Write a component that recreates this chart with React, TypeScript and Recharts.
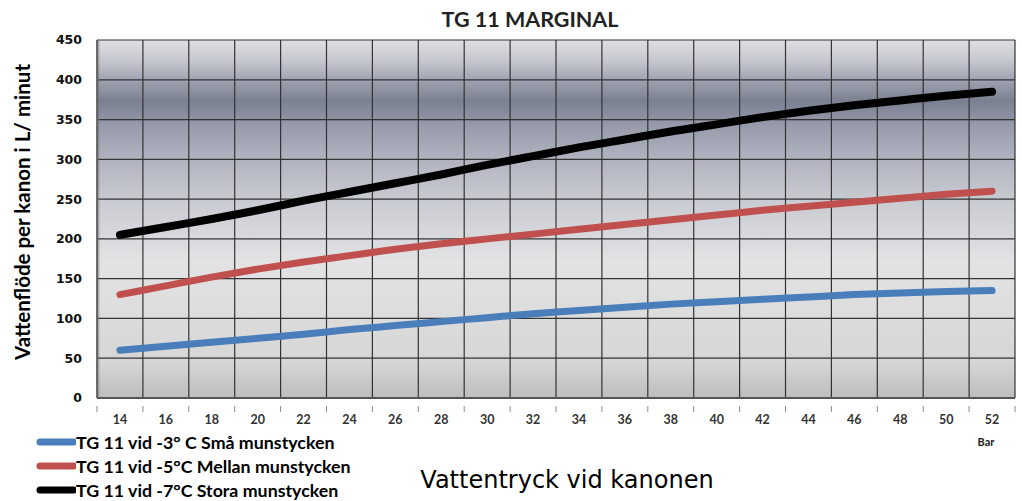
import React from 'react';
import { LineChart, Line, XAxis, YAxis, CartesianGrid, Legend, ReferenceArea } from 'recharts';

const pressures = [14, 16, 18, 20, 22, 24, 26, 28, 30, 32, 34, 36, 38, 40, 42, 44, 46, 48, 50, 52];
const smallNozzles = [60, 65, 70, 75, 80, 86, 91, 96, 101, 106, 110, 114, 118, 121, 124, 127, 130, 132, 134, 135];
const mediumNozzles = [130, 141, 152, 162, 171, 179, 187, 194, 200, 206, 212, 218, 224, 230, 236, 241, 246, 251, 256, 260];
const largeNozzles = [205, 215, 225, 236, 248, 259, 270, 281, 293, 304, 315, 325, 335, 344, 353, 361, 368, 374, 380, 385];
const yTicks = [0, 50, 100, 150, 200, 250, 300, 350, 400, 450];

const seriesNames = [
  'TG 11 vid -3° C Små munstycken',
  'TG 11 vid -5°C Mellan munstycken',
  'TG 11 vid -7°C Stora munstycken',
];
const title = 'TG 11 MARGINAL';
const yTitle = 'Vattenflöde per kanon i L/ minut';
const xTitle = 'Vattentryck vid kanonen';
const unitLabel = 'Bar';

const data = pressures.map((p, i) => ({
  p,
  small: smallNozzles[i],
  medium: mediumNozzles[i],
  large: largeNozzles[i],
}));

const boundaries = [...pressures.map((p) => p - 1), pressures[pressures.length - 1] + 1];
const allTicks = [...boundaries, ...pressures].sort((a, b) => a - b);
const xMin = boundaries[0];
const xMax = boundaries[boundaries.length - 1];

const XTick = (props: any) => {
  const { x, y, payload } = props;
  const v = payload.value;
  if (boundaries.includes(v)) {
    return <line x1={x} y1={y} x2={x} y2={y + 6} stroke="#8a8a8a" strokeWidth={1} />;
  }
  return (
    <text x={x} y={y + 18} textAnchor="middle" fontFamily="Lato" fontWeight="bold" fontSize={12.5} fill="#333">
      {v}
    </text>
  );
};

const LegendContent = (props: any) => {
  const { payload } = props;
  return (
    <div>
      {(payload || []).map((entry: any, i: number) => (
        <div key={i} style={{ display: 'flex', alignItems: 'center', height: 24 }}>
          <svg width={40} height={10}>
            <line x1={4} y1={5} x2={38} y2={5} stroke={entry.color} strokeWidth={7} strokeLinecap="round" />
          </svg>
          <span style={{ fontFamily: 'Lato', fontWeight: 'bold', fontSize: 17.8, lineHeight: '20px', color: '#000', whiteSpace: 'nowrap' }}>
            {entry.value}
          </span>
        </div>
      ))}
    </div>
  );
};

export default function App() {
  return (
    <div style={{ position: 'absolute', left: 0, top: 0, width: 1022, height: 501, background: '#fff' }}>
      <LineChart width={1022} height={501} data={data} margin={{ top: 40, right: 7, bottom: 73, left: 0 }}>
        <defs>
          <linearGradient id="plotBg" x1="0" y1="0" x2="0" y2="1">
            <stop offset="0%" stopColor="#dfe0e4" />
            <stop offset="6%" stopColor="#c4c6ce" />
            <stop offset="12%" stopColor="#9a9eac" />
            <stop offset="17%" stopColor="#7b8090" />
            <stop offset="24%" stopColor="#979bab" />
            <stop offset="33%" stopColor="#b0b3bf" />
            <stop offset="45%" stopColor="#c9cbd2" />
            <stop offset="62%" stopColor="#e3e3e5" />
            <stop offset="90%" stopColor="#d6d6d6" />
            <stop offset="100%" stopColor="#bdbdbd" />
          </linearGradient>
          <linearGradient id="leftShade" x1="0" y1="0" x2="1" y2="0">
            <stop offset="0%" stopColor="#555" stopOpacity={0.8} />
            <stop offset="100%" stopColor="#888" stopOpacity={0} />
          </linearGradient>
        </defs>
        <XAxis xAxisId="grid" hide type="number" dataKey="p" domain={[xMin, xMax]} ticks={boundaries} />
        <CartesianGrid
          xAxisId="grid"
          fill="url(#plotBg)"
          fillOpacity={1}
          stroke="#333"
          strokeWidth={1.2}
          strokeDasharray=""
        />
        <XAxis
          type="number"
          dataKey="p"
          domain={[xMin, xMax]}
          ticks={allTicks}
          interval={0}
          height={30}
          tickLine={false}
          tick={<XTick />}
          axisLine={{ stroke: '#555', strokeWidth: 2 }}
        />
        <YAxis
          width={97}
          domain={[0, 450]}
          ticks={yTicks}
          tickLine={false}
          tickSize={8}
          tickMargin={7}
          axisLine={{ stroke: '#666', strokeWidth: 1.5 }}
          tick={{ fontFamily: 'DejaVu Sans', fontWeight: 'bold', fontSize: 12.5, fill: '#111' }}
        />
        <ReferenceArea x1={xMin} x2={xMin + 0.15} y1={0} y2={450} fill="url(#leftShade)" fillOpacity={1} stroke="none" />
        <Line type="monotone" dataKey="small" name={seriesNames[0]} stroke="#4a7ebb" strokeWidth={7} strokeLinecap="round" dot={false} isAnimationActive={false} />
        <Line type="monotone" dataKey="medium" name={seriesNames[1]} stroke="#c0504d" strokeWidth={7} strokeLinecap="round" dot={false} isAnimationActive={false} />
        <Line type="monotone" dataKey="large" name={seriesNames[2]} stroke="#000000" strokeWidth={8} strokeLinecap="round" dot={false} isAnimationActive={false} />
        <Legend
          layout="vertical"
          align="center"
          verticalAlign="middle"
          content={<LegendContent />}
          wrapperStyle={{ left: 36, top: 430, width: 360 }}
        />
        <text x={530} y={27} textAnchor="middle" fontFamily="Lato" fontWeight="bold" fontSize={21.5} fill="#222">
          {title}
        </text>
        <text
          x={30}
          y={212}
          transform="rotate(-90 30 212)"
          textAnchor="middle"
          fontFamily="Lato"
          fontWeight="bold"
          fontSize={20.5}
          fill="#000"
        >
          {yTitle}
        </text>
        <text x={567} y={488} textAnchor="middle" fontFamily="DejaVu Sans" fontSize={24} fill="#000">
          {xTitle}
        </text>
        <text x={986} y={446} textAnchor="middle" fontFamily="Lato" fontWeight="bold" fontSize={11} fill="#222">
          {unitLabel}
        </text>
      </LineChart>
    </div>
  );
}
